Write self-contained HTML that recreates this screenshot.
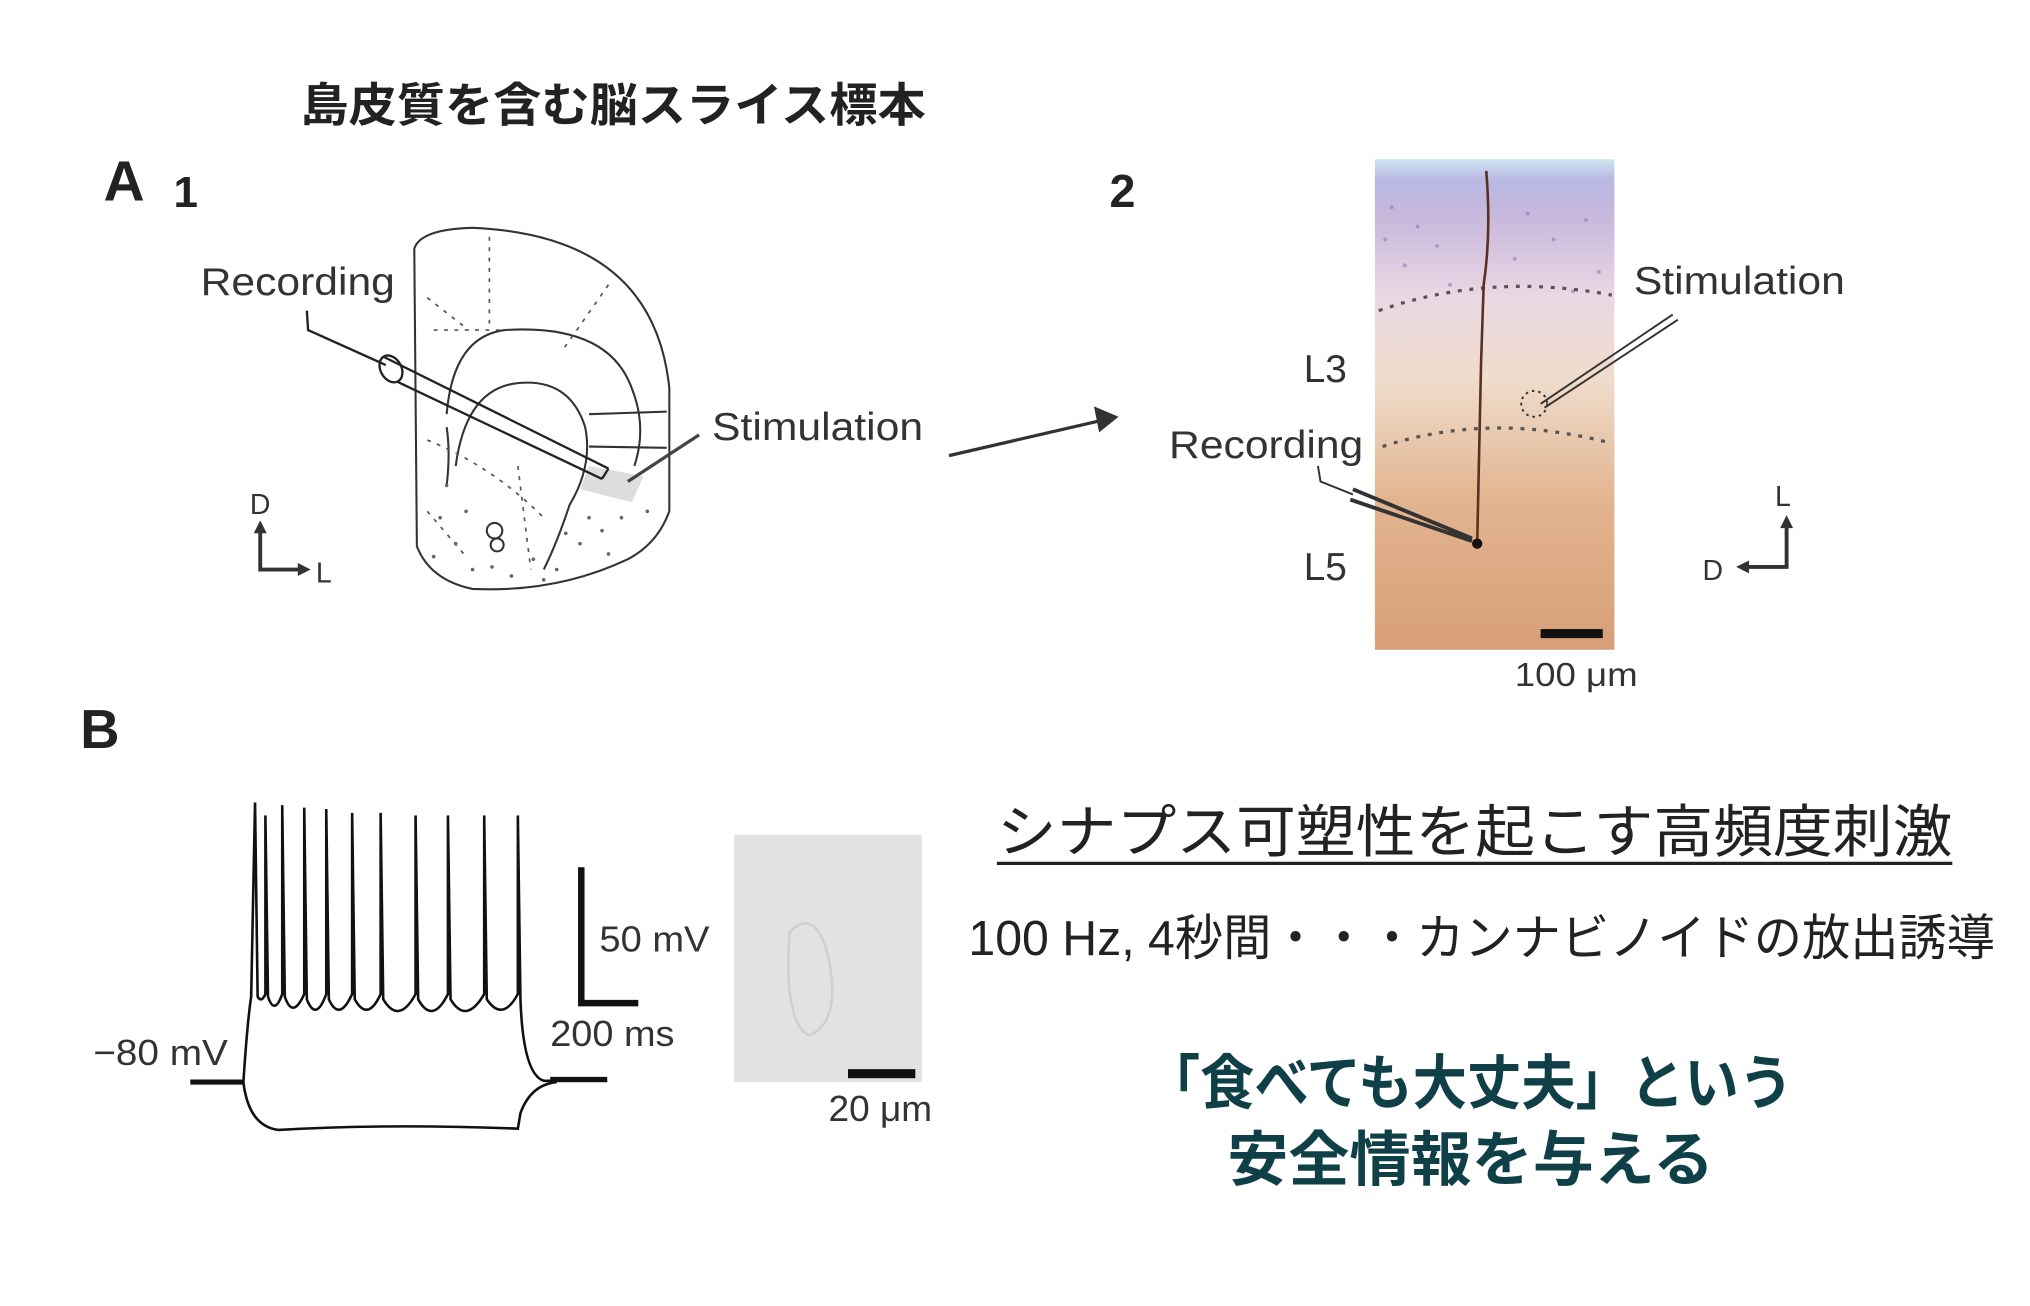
<!DOCTYPE html>
<html><head><meta charset="utf-8">
<style>
html,body{margin:0;padding:0;background:#fff;}
svg{display:block;}
text{font-family:"Liberation Sans","Noto Sans CJK JP",sans-serif;}
</style></head>
<body>
<svg width="2030" height="1306" viewBox="0 0 1568 1009" preserveAspectRatio="none" xmlns="http://www.w3.org/2000/svg">
<defs>
<linearGradient id="hist" x1="0" y1="0" x2="0" y2="1">
<stop offset="0" stop-color="#cfe6f2"/>
<stop offset="0.04" stop-color="#b9b9e4"/>
<stop offset="0.12" stop-color="#c8b8dc"/>
<stop offset="0.28" stop-color="#ead8e4"/>
<stop offset="0.45" stop-color="#efdccb"/>
<stop offset="0.7" stop-color="#e2b48f"/>
<stop offset="1" stop-color="#d79f78"/>
</linearGradient>
</defs>
<rect width="1568" height="1009" fill="#fff"/>

<text x="232" y="94" font-size="36" font-weight="bold" fill="#222" textLength="483" lengthAdjust="spacingAndGlyphs">島皮質を含む脳スライス標本</text>
<text x="80" y="155" font-size="44" font-weight="bold" fill="#222">A</text>
<text x="134" y="160" font-size="34" font-weight="bold" fill="#222">1</text>
<text x="857" y="160" font-size="36" font-weight="bold" fill="#222">2</text>

<g fill="none" stroke="#333" stroke-width="1.6">
<path d="M320,192 Q325,177 365,176 Q505,182 517,300 L517,395 Q508,420 485,432 Q430,458 365,455 Q332,448 322,422 Z"/>
<path d="M345,320 Q350,260 390,255 Q470,250 488,300 Q500,330 490,360" />
<path d="M352,360 Q360,300 400,296 Q440,292 452,330 Q458,360 440,390 Q430,420 420,440"/>
<path d="M455,320 L515,318 M455,345 L515,346"/>
<path d="M345,330 Q348,350 345,375"/>
<circle cx="382" cy="410" r="6"/><circle cx="384" cy="421" r="5"/>
</g>
<g fill="none" stroke="#555" stroke-width="1.3" stroke-dasharray="3,5">
<path d="M378,183 L378,250 M330,230 L362,255 M470,220 L435,270 M335,255 L392,255"/>
<path d="M330,340 Q380,360 420,400 M400,360 L410,440 M330,395 L360,430"/>
</g>
<g fill="#666">
<circle cx="340" cy="400" r="1.4"/><circle cx="352" cy="420" r="1.4"/><circle cx="365" cy="440" r="1.4"/><circle cx="335" cy="430" r="1.4"/><circle cx="395" cy="445" r="1.4"/><circle cx="412" cy="432" r="1.4"/><circle cx="430" cy="440" r="1.4"/><circle cx="448" cy="420" r="1.4"/><circle cx="465" cy="410" r="1.4"/><circle cx="480" cy="400" r="1.4"/><circle cx="470" cy="428" r="1.4"/><circle cx="455" cy="400" r="1.4"/><circle cx="500" cy="395" r="1.4"/><circle cx="345" cy="375" r="1.4"/><circle cx="360" cy="395" r="1.4"/><circle cx="380" cy="438" r="1.4"/><circle cx="420" cy="448" r="1.4"/><circle cx="437" cy="412" r="1.4"/>
</g>
<polygon points="455,360 497,368 488,388 448,378" fill="#ddd"/>
<g fill="none" stroke="#222" stroke-width="1.8">
<ellipse cx="302" cy="285" rx="8" ry="11" transform="rotate(-30 302 285)" fill="#fff"/>
<path d="M297,276 L470,362 M307,295 L465,370 M470,362 L465,370"/>
<path d="M237,240 L238,255 L298,282"/>
</g>
<text x="155" y="228" font-size="30" fill="#333" textLength="150" lengthAdjust="spacingAndGlyphs">Recording</text>
<line x1="540" y1="336" x2="485" y2="372" stroke="#444" stroke-width="2.5"/>
<text x="550" y="340" font-size="30" fill="#333" textLength="163" lengthAdjust="spacingAndGlyphs">Stimulation</text>
<text x="193" y="397" font-size="22" fill="#333">D</text>
<g stroke="#333" stroke-width="3" fill="none"><path d="M201,410 L201,440 L232,440"/></g>
<polygon points="201,402 196,412 206,412" fill="#333"/>
<polygon points="240,440 230,435 230,445" fill="#333"/>
<text x="244" y="450" font-size="22" fill="#333">L</text>

<line x1="733" y1="352" x2="850" y2="325" stroke="#333" stroke-width="2.5"/>
<polygon points="864,322 845,314 849,334" fill="#333"/>

<rect x="1062" y="123" width="185" height="379" fill="url(#hist)"/>
<g fill="#8a7ac0" opacity="0.6">
<circle cx="1075" cy="160" r="1.5"/><circle cx="1095" cy="175" r="1.5"/><circle cx="1110" cy="190" r="1.5"/><circle cx="1180" cy="165" r="1.5"/><circle cx="1200" cy="185" r="1.5"/><circle cx="1225" cy="170" r="1.5"/><circle cx="1085" cy="205" r="1.5"/><circle cx="1235" cy="210" r="1.5"/><circle cx="1170" cy="200" r="1.5"/><circle cx="1120" cy="220" r="1.5"/><circle cx="1215" cy="225" r="1.5"/><circle cx="1070" cy="185" r="1.5"/>
</g>
<g fill="none" stroke="#555" stroke-width="2.5" stroke-dasharray="3,6">
<path d="M1065,240 Q1150,210 1245,228"/>
<path d="M1068,345 Q1150,318 1243,342"/>
</g>
<path d="M1148,132 Q1152,180 1146,220 L1144,280 Q1142,360 1141,420" fill="none" stroke="#5a3020" stroke-width="2"/>
<circle cx="1141" cy="420" r="4" fill="#111"/>
<circle cx="1185" cy="312" r="10" fill="none" stroke="#333" stroke-width="1.5" stroke-dasharray="2,3"/>
<path d="M1292,243 L1190,312 M1296,247 L1193,315" stroke="#333" stroke-width="1.5"/>
<path d="M1018,360 L1020,372 L1045,382" fill="none" stroke="#333" stroke-width="1.5"/>
<path d="M1045,378 L1137,416 M1043,386 L1137,418" stroke="#333" stroke-width="3"/>
<rect x="1190" y="486" width="48" height="7" fill="#111"/>
<text x="1170" y="530" font-size="26" fill="#333" textLength="95" lengthAdjust="spacingAndGlyphs">100 μm</text>
<text x="1262" y="227" font-size="30" fill="#333" textLength="163" lengthAdjust="spacingAndGlyphs">Stimulation</text>
<text x="1007" y="295" font-size="30" fill="#333">L3</text>
<text x="1007" y="448" font-size="30" fill="#333">L5</text>
<text x="903" y="354" font-size="30" fill="#333" textLength="150" lengthAdjust="spacingAndGlyphs">Recording</text>
<text x="1371" y="391" font-size="22" fill="#333">L</text>
<g stroke="#333" stroke-width="3" fill="none"><path d="M1380,405 L1380,438 L1350,438"/></g>
<polygon points="1380,398 1375,408 1385,408" fill="#333"/>
<polygon points="1341,438 1351,433 1351,443" fill="#333"/>
<text x="1315" y="448" font-size="22" fill="#333">D</text>

<text x="62" y="578" font-size="42" font-weight="bold" fill="#222">B</text>
<g fill="none" stroke="#111" stroke-width="2">
<path d="M188,836 Q191,790 194,770 L197,620 L199,770 Q202,775 205,768 L205,630 L207,770 Q212,785 218,768 L218,622 L220,770 Q226,788 235,768 L235,624 L237,772 Q244,790 252,768 L252,625 L254,772 Q262,790 272,768 L272,628 L274,772 Q284,790 294,768 L294,628 L296,772 Q308,792 321,768 L321,630 L323,772 Q334,792 346,768 L346,630 L348,772 Q360,792 374,768 L374,630 L376,772 Q388,790 400,768 L400,630 L402,772 Q404,830 420,835 L469,835"/>
<path d="M188,836 Q192,870 215,873 Q300,868 400,872 L402,860 Q410,838 430,836"/>
</g>
<line x1="147" y1="836" x2="188" y2="836" stroke="#111" stroke-width="4"/>
<line x1="425" y1="834" x2="469" y2="834" stroke="#111" stroke-width="4"/>
<text x="72" y="823" font-size="28" fill="#333" textLength="104" lengthAdjust="spacingAndGlyphs">−80 mV</text>
<path d="M449,670 L449,775 L493,775" fill="none" stroke="#111" stroke-width="5"/>
<text x="463" y="735" font-size="28" fill="#333" textLength="85" lengthAdjust="spacingAndGlyphs">50 mV</text>
<text x="425" y="808" font-size="28" fill="#333" textLength="96" lengthAdjust="spacingAndGlyphs">200 ms</text>
<rect x="567" y="645" width="145" height="191" fill="#e2e2e2"/>
<path d="M610,720 Q630,700 640,740 Q650,790 625,800 Q605,790 610,720" fill="none" stroke="#cfcfcf" stroke-width="2"/>
<rect x="655" y="826" width="52" height="7" fill="#111"/>
<text x="640" y="866" font-size="28" fill="#333" textLength="80" lengthAdjust="spacingAndGlyphs">20 μm</text>

<text x="770" y="658" font-size="44" fill="#222" textLength="738" lengthAdjust="spacingAndGlyphs">シナプス可塑性を起こす高頻度刺激</text>
<line x1="770" y1="667" x2="1508" y2="667" stroke="#222" stroke-width="2.5"/>
<text x="748" y="738" font-size="38" fill="#222" textLength="793" lengthAdjust="spacingAndGlyphs">100 Hz, 4秒間・・・カンナビノイドの放出誘導</text>
<text x="885" y="853" font-size="46" font-weight="bold" fill="#0f3f47" textLength="500" lengthAdjust="spacingAndGlyphs">「食べても大丈夫」という</text>
<text x="948" y="912" font-size="46" font-weight="bold" fill="#0f3f47" textLength="376" lengthAdjust="spacingAndGlyphs">安全情報を与える</text>
</svg>
</body></html>
